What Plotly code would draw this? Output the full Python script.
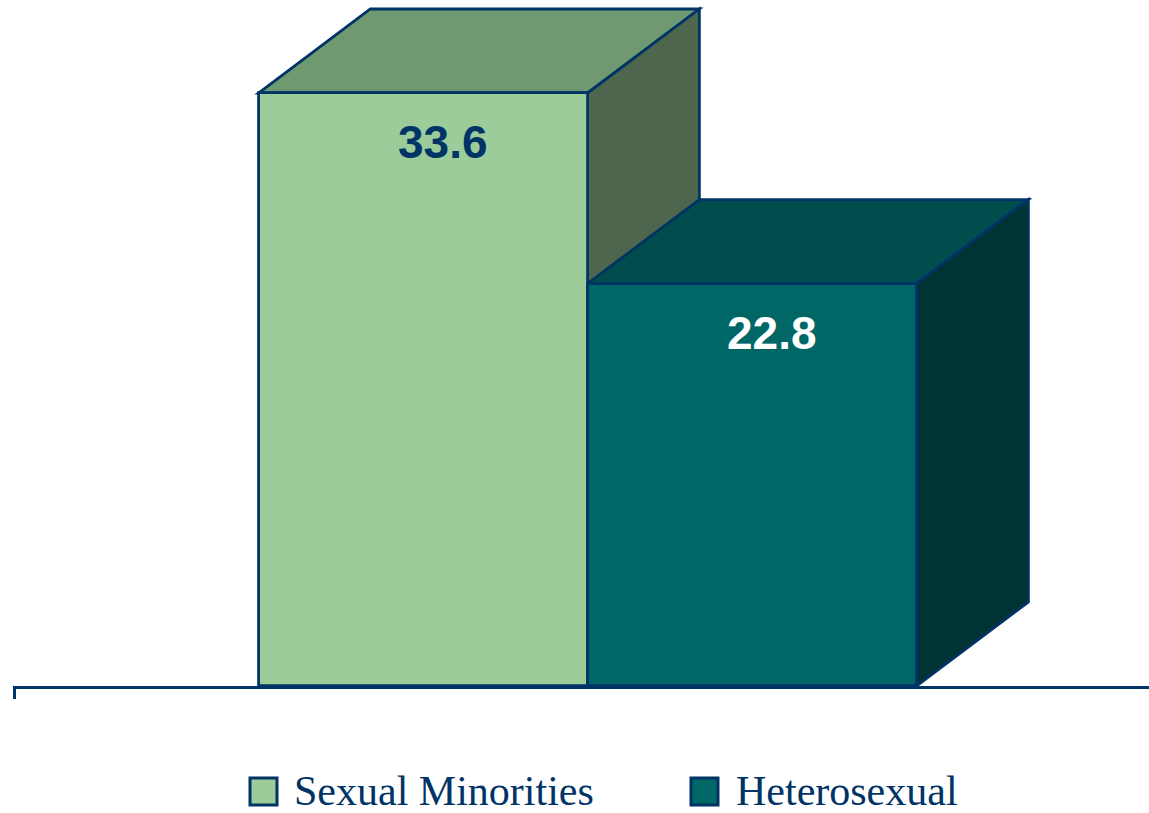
import plotly.graph_objects as go

# ---- data ----
categories = ["Sexual Minorities", "Heterosexual"]
values = [33.6, 22.8]
labels = ["33.6", "22.8"]

# ---- style ----
front_colors = ["#9BCC9A", "#006666"]
top_colors = ["#6F9970", "#004D4D"]
side_colors = ["#4D664D", "#003333"]
label_colors = ["#003366", "#FFFFFF"]
edge = "#003366"

positions = list(range(len(categories)))
bar_w = 1.0
depth_x = 0.34     # 3D depth in x units
depth_y = 4.76     # 3D depth in y units
x_range = [-1.2462, 2.2067]
y_range = [0, 38.87]

fig = go.Figure()

# front faces
for i, (cat, v) in enumerate(zip(categories, values)):
    fig.add_trace(go.Bar(
        x=[positions[i]], y=[v], width=bar_w, name=cat,
        marker=dict(color=front_colors[i], line=dict(color=edge, width=2.8)),
        showlegend=False, hoverinfo="skip",
    ))

# top and side faces (3D extrusion), computed from values
shapes = []
for i, v in enumerate(values):
    xl = positions[i] - bar_w / 2
    xr = positions[i] + bar_w / 2
    top = (f"M {xl},{v} L {xr},{v} L {xr + depth_x},{v + depth_y} "
           f"L {xl + depth_x},{v + depth_y} Z")
    side = (f"M {xr},0 L {xr + depth_x},{depth_y} L {xr + depth_x},{v + depth_y} "
            f"L {xr},{v} Z")
    shapes.append(dict(type="path", path=top, xref="x", yref="y", layer="below",
                       fillcolor=top_colors[i], line=dict(color=edge, width=2.8)))
    shapes.append(dict(type="path", path=side, xref="x", yref="y", layer="below",
                       fillcolor=side_colors[i], line=dict(color=edge, width=2.8)))

# value labels
annotations = []
for i, v in enumerate(values):
    annotations.append(dict(
        x=positions[i] + 0.062, y=v - 2.8, xref="x", yref="y",
        text=f"<b>{labels[i]}</b>", showarrow=False,
        font=dict(family="Arial, Liberation Sans, sans-serif", size=46, color=label_colors[i]),
        xanchor="center", yanchor="middle",
    ))

# custom legend (pixel positions converted to paper coords)
L, T, PW, PH = 13, 0, 1136, 686
def px(x):
    return (x - L) / PW
def py(y):
    return (PH - (y - T)) / PH

legend_items = [(250, 292), (691, 734)]
for i, cat in enumerate(categories):
    sx, tx = legend_items[i]
    shapes.append(dict(type="rect", xref="paper", yref="paper",
                       x0=px(sx), x1=px(sx + 27), y0=py(805), y1=py(778),
                       fillcolor=front_colors[i], line=dict(color=edge, width=3)))
    annotations.append(dict(
        x=px(tx), y=py(791), xref="paper", yref="paper", text=cat,
        showarrow=False, xanchor="left", yanchor="middle",
        font=dict(family="Times New Roman, Liberation Serif, serif", size=42, color="#003366"),
    ))

fig.update_layout(
    width=1149, height=813,
    margin=dict(l=L, r=0, t=T, b=813 - PH),
    paper_bgcolor="white", plot_bgcolor="white",
    barmode="overlay", bargap=0,
    shapes=shapes, annotations=annotations,
    showlegend=False,
    xaxis=dict(range=x_range, showgrid=False, zeroline=False,
               showline=True, linecolor=edge, linewidth=3,
               ticks="outside", tickvals=[x_range[0] + 0.004], ticklen=10,
               tickwidth=3, tickcolor=edge, showticklabels=False, fixedrange=True),
    yaxis=dict(range=y_range, visible=False, fixedrange=True),
)

fig.write_html(
    "out.html",
    config={"displayModeBar": False},
    post_script="document.body.style.margin='0';document.body.style.overflow='hidden';",
)
